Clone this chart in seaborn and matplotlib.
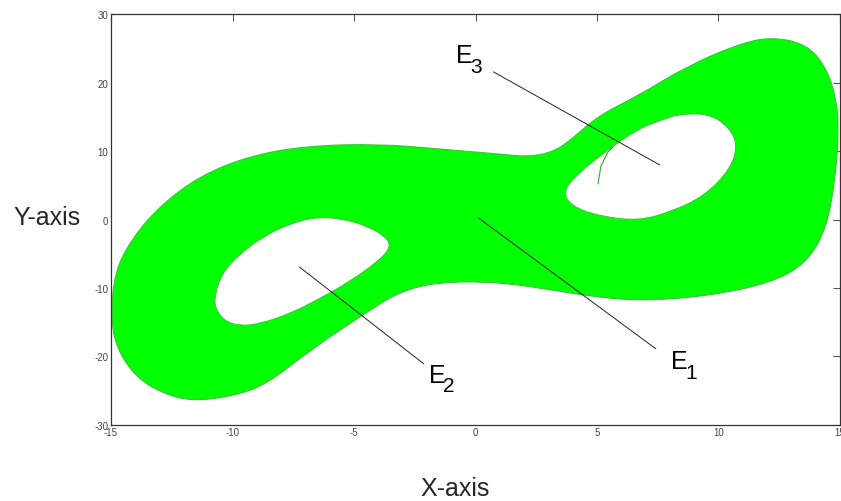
import matplotlib
matplotlib.use("Agg")
import matplotlib.pyplot as plt
from matplotlib.path import Path
from matplotlib.patches import PathPatch
import seaborn as sns

# Outer envelope of the double-scroll attractor (x, y)
outer_x = [-15.00, -14.85, -14.15, -12.99, -11.35, -9.30, -6.97, -3.98, -1.52, 0.94,
           2.17, 3.20, 3.93, 5.04, 6.68, 8.73, 10.78, 12.13, 13.62, 14.44,
           14.85, 14.95, 14.81, 14.44, 13.62, 12.13, 9.43, 6.68, 4.63, 3.40,
           0.94, -1.52, -3.16, -4.71, -6.84, -8.61, -10.00, -11.64, -12.80, -13.95,
           -14.80]
outer_y = [-14.09, -7.66, -2.83, 1.99, 6.37, 9.30, 10.76, 11.05, 10.32, 9.59,
           9.15, 9.88, 11.64, 15.15, 18.07, 22.46, 25.58, 26.70, 25.68, 22.22,
           17.63, 13.25, 5.94, -1.37, -6.39, -9.32, -11.27, -11.90, -11.17, -10.44,
           -9.12, -9.12, -10.58, -14.09, -19.21, -24.14, -25.84, -26.56, -25.53, -23.19,
           -18.71]

# Empty region around the left scroll
left_hole_x = [-10.74, -10.45, -9.71, -8.69, -7.66, -6.56, -5.41, -4.39, -3.69,
               -3.48, -3.98, -5.20, -6.43, -7.66, -8.89, -9.71, -10.33, -10.70]
left_hole_y = [-11.17, -7.95, -5.03, -2.40, -0.64, 0.38, 0.09, -1.08, -2.54,
               -4.01, -6.05, -9.12, -11.61, -13.80, -15.26, -15.56, -14.82, -13.07]

# Empty region around the right scroll
right_hole_x = [3.61, 4.10, 5.33, 6.68, 7.79, 8.44, 9.67, 10.49, 10.78, 10.49,
                9.43, 8.03, 6.68, 5.04, 3.93]
right_hole_y = [4.04, 6.37, 9.88, 13.25, 14.71, 15.44, 15.44, 13.25, 10.76, 7.40,
                3.45, 1.11, -0.20, 0.53, 1.99]

# Initial transient of the trajectory
transient_x = [5.04, 5.16, 5.45, 5.66]
transient_y = [5.20, 7.80, 9.88, 10.60]

# Equilibrium labels, their positions and leader lines
eq_names = ["E", "E", "E"]
eq_subs = ["1", "2", "3"]
eq_x = [0.12, -7.25, 7.58]
eq_y = [0.23, -6.93, 7.98]
leader_x = [7.42, -2.13, 0.74]
leader_y = [-18.90, -21.10, 21.58]
label_x = [8.03, -1.93, -0.82]
label_y = [-21.7, -23.7, 23.0]

x_ticks = [-15, -10, -5, 0, 5, 10, 15]
y_ticks = [-30, -20, -10, 0, 10, 20, 30]


def closed_smooth_path(xs, ys):
    """Closed quadratic-Bezier path using the listed vertices as control points."""
    pts = list(zip(xs, ys))
    n = len(pts)
    mid = lambda a, b: ((a[0] + b[0]) / 2, (a[1] + b[1]) / 2)
    verts = [mid(pts[-1], pts[0])]
    codes = [Path.MOVETO]
    for i in range(n):
        verts += [pts[i], mid(pts[i], pts[(i + 1) % n])]
        codes += [Path.CURVE3, Path.CURVE3]
    verts.append(verts[0])
    codes.append(Path.CLOSEPOLY)
    return Path(verts, codes)


sns.set_style("white")
plt.rcParams["font.family"] = ["Liberation Sans", "DejaVu Sans"]
plt.rcParams["axes.unicode_minus"] = False

fig = plt.figure(figsize=(8.41, 5.02), dpi=100)
ax = fig.add_axes([0.132, 0.152, 0.8668, 0.8175])

bright = "#00ff00"
edge = "#3cc43c"

ax.add_patch(PathPatch(closed_smooth_path(outer_x, outer_y), facecolor=bright,
                       edgecolor=edge, lw=0.8, zorder=1))
for hx, hy in [(left_hole_x, left_hole_y), (right_hole_x, right_hole_y)]:
    ax.add_patch(PathPatch(closed_smooth_path(hx, hy), facecolor="white",
                           edgecolor=edge, lw=0.7, zorder=2))

sns.lineplot(x=transient_x, y=transient_y, sort=False, estimator=None,
             color="#2ea82e", lw=0.8, ax=ax, zorder=3)

for name, sub, ex, ey, lx, ly, tx, ty in zip(eq_names, eq_subs, eq_x, eq_y,
                                              leader_x, leader_y, label_x, label_y):
    sns.lineplot(x=[ex, lx], y=[ey, ly], sort=False, estimator=None,
                 color="#222222", lw=0.7, ax=ax, zorder=4)
    ax.text(tx, ty, name, fontsize=18, ha="left", va="baseline", color="black", zorder=5)
    ax.annotate(sub, xy=(tx, ty), xytext=(10.5, -7), textcoords="offset points",
                fontsize=15, ha="left", va="baseline", color="black", zorder=5)

ax.set_xlim(-15, 15)
ax.set_ylim(-30, 30)
ax.set_xticks(x_ticks)
ax.set_yticks(y_ticks)
ax.set_xlabel("")
ax.set_ylabel("")
ax.tick_params(direction="in", top=True, right=True, length=5, width=0.8,
               color="#555555", labelsize=7, labelcolor="#444444", pad=2)
for s in ax.spines.values():
    s.set_color("#333333")
    s.set_linewidth(0.9)

fig.text(0.0155, 0.552, "Y-axis", fontsize=18, ha="left", va="baseline")
fig.text(0.541, 0.012, "X-axis", fontsize=18, ha="center", va="baseline")

fig.savefig("out.png", dpi=100)
